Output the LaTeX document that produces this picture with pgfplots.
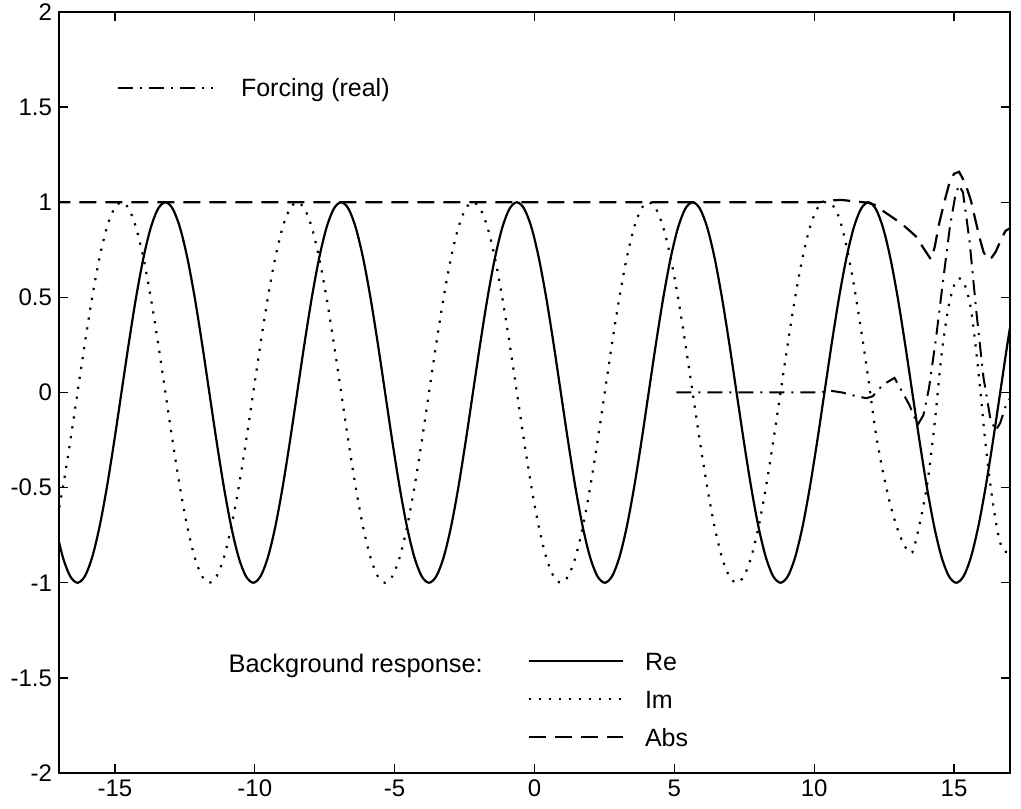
\documentclass[border=0pt]{standalone}
\usepackage{fontspec}
\setmainfont{Liberation Sans}
\usepackage{pgfplots}
\usepackage{pgfplotstable}
\pgfplotsset{compat=1.18}
\usetikzlibrary{calc}

\pgfplotstableread{
x re
-17.123 -0.7071
-16.862 -0.8660
-16.600 -0.9659
-16.338 -1
-16.076 -0.9659
-15.814 -0.8660
-15.553 -0.7071
-15.291 -0.5
-15.029 -0.2588
-14.767 0
-14.505 0.2588
-14.244 0.5
-13.982 0.7071
-13.720 0.8660
-13.458 0.9659
-13.196 1
-12.935 0.9659
-12.673 0.8660
-12.411 0.7071
-12.149 0.5
-11.887 0.2588
-11.626 0
-11.364 -0.2588
-11.102 -0.5
-10.840 -0.7071
-10.578 -0.8660
-10.317 -0.9659
-10.055 -1
-9.793 -0.9659
-9.531 -0.8660
-9.269 -0.7071
-9.008 -0.5
-8.746 -0.2588
-8.484 0
-8.222 0.2588
-7.960 0.5
-7.699 0.7071
-7.437 0.8660
-7.175 0.9659
-6.913 1
-6.651 0.9659
-6.390 0.8660
-6.128 0.7071
-5.866 0.5
-5.604 0.2588
-5.342 0
-5.081 -0.2588
-4.819 -0.5
-4.557 -0.7071
-4.295 -0.8660
-4.033 -0.9659
-3.772 -1
-3.510 -0.9659
-3.248 -0.8660
-2.986 -0.7071
-2.724 -0.5
-2.463 -0.2588
-2.201 0
-1.939 0.2588
-1.677 0.5
-1.415 0.7071
-1.154 0.8660
-0.892 0.9659
-0.630 1
-0.368 0.9659
-0.106 0.8660
0.155 0.7071
0.417 0.5
0.679 0.2588
0.941 0
1.203 -0.2588
1.464 -0.5
1.726 -0.7071
1.988 -0.8660
2.250 -0.9659
2.512 -1
2.773 -0.9659
3.035 -0.8660
3.297 -0.7071
3.559 -0.5
3.821 -0.2588
4.082 0
4.344 0.2588
4.606 0.5
4.868 0.7071
5.130 0.8660
5.391 0.9659
5.653 1
5.915 0.9659
6.177 0.8660
6.439 0.7071
6.700 0.5
6.962 0.2588
7.224 0
7.486 -0.2588
7.748 -0.5
8.009 -0.7071
8.271 -0.8660
8.533 -0.9659
8.795 -1
9.057 -0.9659
9.318 -0.8660
9.580 -0.7071
9.842 -0.5
10.104 -0.2588
10.366 0
10.627 0.2588
10.889 0.5
11.151 0.7071
11.413 0.8660
11.675 0.9659
11.936 1
12.198 0.9659
12.460 0.8660
12.722 0.7071
12.984 0.5
13.245 0.2588
13.507 0
13.769 -0.2588
14.031 -0.5
14.293 -0.7071
14.554 -0.8660
14.816 -0.9659
15.078 -1
15.340 -0.9659
15.602 -0.8660
15.863 -0.7071
16.125 -0.5
16.387 -0.2588
16.649 0
16.911 0.2588
17.172 0.5
}\retable

\pgfplotstableread{
x im
-17.123 -0.7071
-16.862 -0.5
-16.600 -0.2588
-16.338 0
-16.076 0.2588
-15.814 0.5
-15.553 0.7071
-15.291 0.8660
-15.029 0.9659
-14.767 1
-14.505 0.9659
-14.244 0.8660
-13.982 0.7071
-13.720 0.5
-13.458 0.2588
-13.196 0
-12.935 -0.2588
-12.673 -0.5
-12.411 -0.7071
-12.149 -0.8660
-11.887 -0.9659
-11.626 -1
-11.364 -0.9659
-11.102 -0.8660
-10.840 -0.7071
-10.578 -0.5
-10.317 -0.2588
-10.055 0
-9.793 0.2588
-9.531 0.5
-9.269 0.7071
-9.008 0.8660
-8.746 0.9659
-8.484 1
-8.222 0.9659
-7.960 0.8660
-7.699 0.7071
-7.437 0.5
-7.175 0.2588
-6.913 0
-6.651 -0.2588
-6.390 -0.5
-6.128 -0.7071
-5.866 -0.8660
-5.604 -0.9659
-5.342 -1
-5.081 -0.9659
-4.819 -0.8660
-4.557 -0.7071
-4.295 -0.5
-4.033 -0.2588
-3.772 0
-3.510 0.2588
-3.248 0.5
-2.986 0.7071
-2.724 0.8660
-2.463 0.9659
-2.201 1
-1.939 0.9659
-1.677 0.8660
-1.415 0.7071
-1.154 0.5
-0.892 0.2588
-0.630 0
-0.368 -0.2588
-0.106 -0.5
0.155 -0.7071
0.417 -0.8660
0.679 -0.9659
0.941 -1
1.203 -0.9659
1.464 -0.8660
1.726 -0.7071
1.988 -0.5
2.250 -0.2588
2.512 0
2.773 0.2588
3.035 0.5
3.297 0.7071
3.559 0.8660
3.821 0.9659
4.082 1
4.344 0.9659
4.606 0.8660
4.868 0.7071
5.130 0.5
5.391 0.2588
5.653 0
5.915 -0.2588
6.177 -0.5
6.439 -0.7071
6.700 -0.8660
6.962 -0.9659
7.224 -1
7.486 -0.9659
7.748 -0.8660
8.009 -0.7071
8.271 -0.5
8.533 -0.2588
8.795 0
9.057 0.2588
9.318 0.5
9.580 0.7071
9.842 0.8660
10.104 0.9659
10.366 1
10.627 0.99
10.889 0.92
11.151 0.77
11.413 0.57
11.675 0.33
11.936 0.07
12.198 -0.21
12.460 -0.42
12.722 -0.59
12.984 -0.72
13.245 -0.81
13.507 -0.84
13.769 -0.69
14.031 -0.49
14.293 -0.18
14.554 0.20
14.816 0.46
15.078 0.59
15.340 0.58
15.602 0.44
15.863 0.12
16.125 -0.27
16.387 -0.58
16.649 -0.79
16.911 -0.84
17.172 -0.78
}\imtable

\pgfplotstableread{
x abs
-17.2 1
10.2 1
10.6 1.01
11.0 1.012
11.4 1.005
11.9 0.998
12.2 0.985
12.45 0.955
12.7 0.93
13.0 0.90
13.3 0.865
13.64 0.82
13.9 0.76
14.17 0.70
14.3 0.76
14.47 0.89
14.65 1.00
14.83 1.10
15.0 1.15
15.18 1.16
15.4 1.10
15.6 1.01
15.9 0.82
16.05 0.74
16.19 0.70
16.35 0.71
16.49 0.74
16.7 0.81
16.84 0.85
17.2 0.88
}\abstable

\pgfplotstableread{
x f
5.07 0
10.2 0
10.55 0.01
11.0 0.0
11.38 -0.015
11.86 -0.03
12.09 -0.02
12.45 0.04
12.87 0.077
13.16 0.0
13.40 -0.065
13.70 -0.17
13.90 -0.12
14.10 0.02
14.35 0.28
14.60 0.58
14.85 0.87
15.05 1.04
15.18 1.09
15.32 1.05
15.55 0.80
15.80 0.42
16.05 0.08
16.30 -0.14
16.49 -0.20
16.65 -0.16
16.85 -0.07
17.2 0.02
}\forcetable

\tikzset{
  reline/.style={black, line width=1.1pt},
  imline/.style={black, line width=1.1pt, dash pattern=on 1.1pt off 3.9pt},
  absline/.style={black, line width=1.1pt, dash pattern=on 8.5pt off 4.5pt},
  fline/.style={black, line width=1.0pt, dash pattern=on 7.5pt off 3.5pt on 1pt off 3.5pt},
}

\begin{document}
\begin{tikzpicture}
\begin{axis}[
  name=main,
  scale only axis, width=475.5pt, height=380.5pt,
  xmin=-17, xmax=17, ymin=-2, ymax=2,
  xtick={-15,-10,-5,0,5,10,15},
  xticklabels={-15,-10,-5,0,5,10,15},
  ytick={-2,-1.5,-1,-0.5,0,0.5,1,1.5,2},
  yticklabels={-2,-1.5,-1,-0.5,0,0.5,1,1.5,2},
  tick align=inside, major tick length=4.5pt,
  tick style={black, line width=0.7pt},
  axis line style={black, line width=0.9pt},
  ticklabel style={font=\fontsize{12}{14}\selectfont},
  legend image code/.code={\draw[#1] (0pt,0pt) -- (47pt,0pt); \path (57.5pt,0pt);},
  legend style={draw=none, fill=none, inner sep=0pt, outer sep=0pt,
    font=\fontsize{12.5}{15}\selectfont, row sep=10pt, column sep=0pt,
    at={(0.493,0.159)}, anchor=north west,
    nodes={inner sep=0pt, text height=9pt, text depth=0pt}},
  legend cell align=left,
]
\addplot[reline, smooth] table[x=x, y=re] {\retable};
\addlegendentry{Re}
\addplot[imline, smooth] table[x=x, y=im] {\imtable};
\addlegendentry{Im}
\addplot[absline] table[x=x, y=abs] {\abstable};
\addlegendentry{Abs}
\addplot[fline, forget plot] table[x=x, y=f] {\forcetable};
\node[anchor=west, font=\fontsize{12.7}{15}\selectfont, inner sep=0pt] at (rel axis cs:0.178,0.141) {Background response:};
\end{axis}
\begin{axis}[
  scale only axis, width=475.5pt, height=380.5pt,
  xmin=-17, xmax=17, ymin=-2, ymax=2, hide axis,
  legend image code/.code={\draw[#1] (0pt,0pt) -- (47.5pt,0pt); \path (61pt,0pt);},
  legend style={draw=none, fill=none, inner sep=0pt, outer sep=0pt,
    font=\fontsize{12.5}{15}\selectfont, column sep=0pt,
    at={(0.061,0.912)}, anchor=north west,
    nodes={inner sep=0pt, text height=9pt, text depth=0pt}},
]
\addlegendimage{fline}
\addlegendentry{Forcing (real)}
\end{axis}
\pgfresetboundingbox
\path[use as bounding box] ($(main.south west)+(-29.5pt,-17.5pt)$) rectangle ($(main.north east)+(5.5pt,6pt)$);
\end{tikzpicture}
\end{document}
